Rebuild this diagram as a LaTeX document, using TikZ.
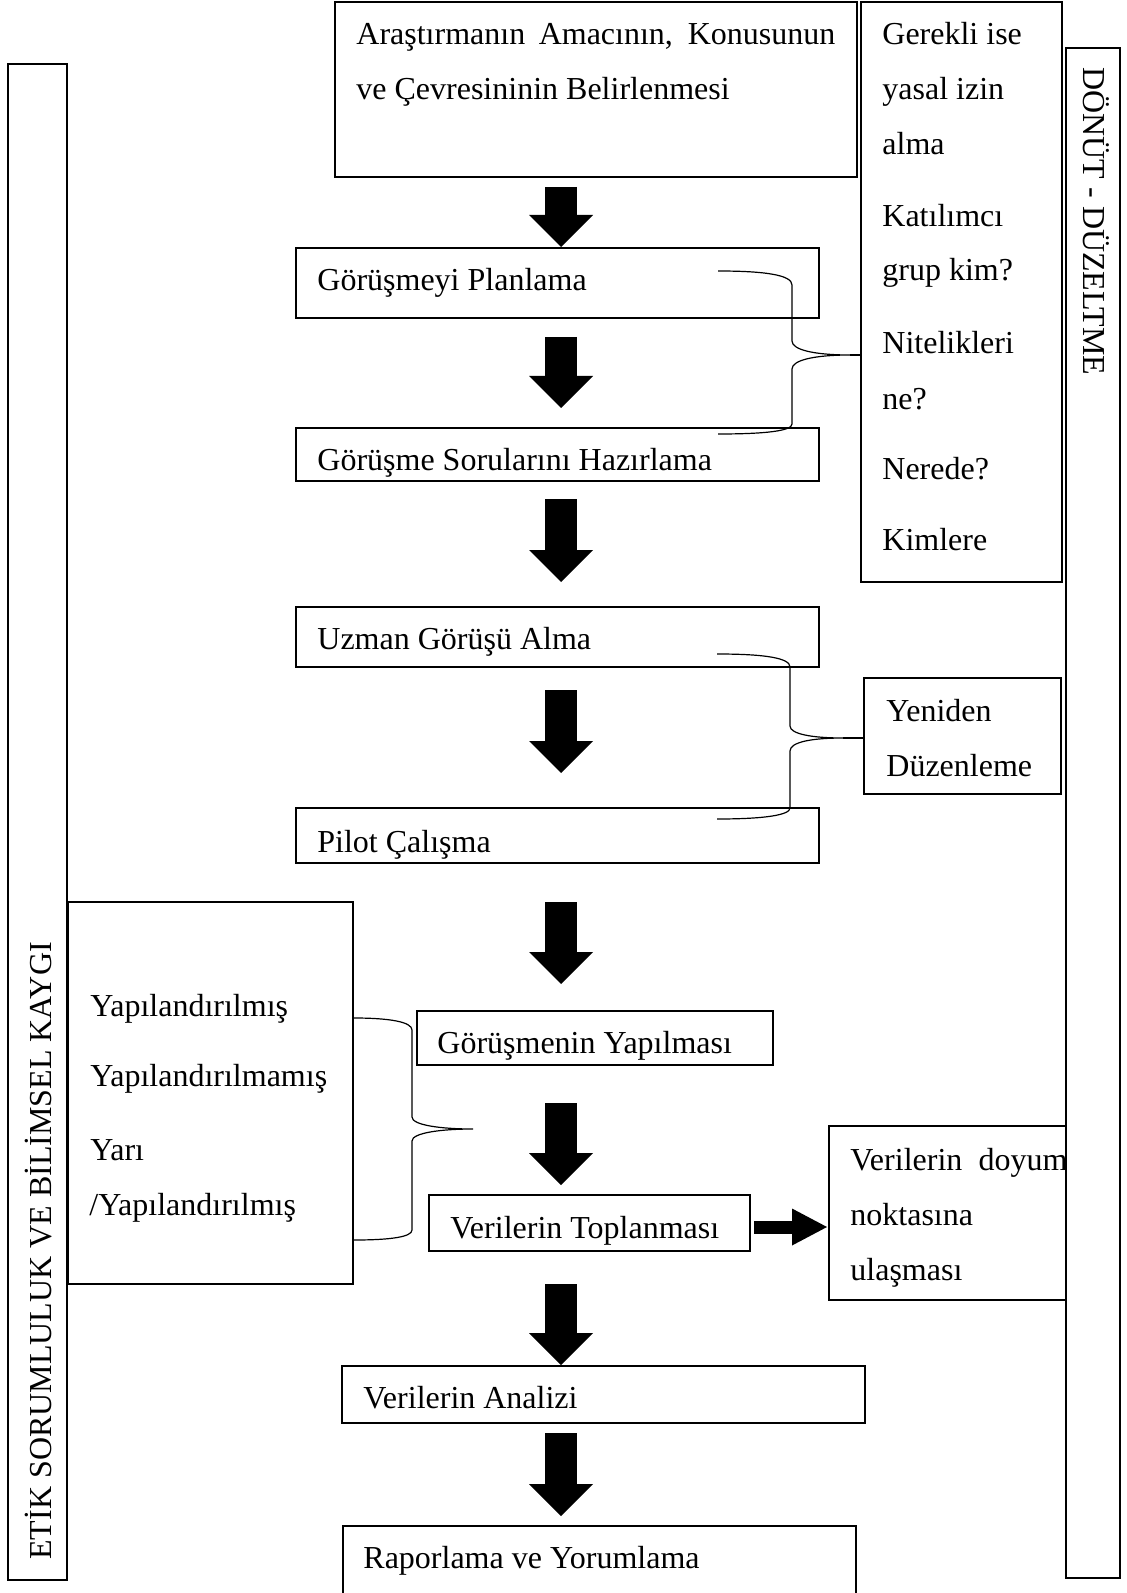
\documentclass[tikz,border=0pt]{standalone}
\usepackage{fontspec}
\setmainfont{Liberation Serif}
\usetikzlibrary{arrows.meta,calc,fit}
\begin{document}
\begin{tikzpicture}[x=0.5pt,y=-0.5pt,
  box/.style={draw, line width=1pt, inner sep=0pt, rectangle},
  rlbl/.style={font=\fontsize{16pt}{19pt}\selectfont, inner sep=0pt, anchor=base west},
  lbl/.style={rlbl, yshift=-1.5pt},
  bigarrow/.style={line width=16pt, -{Triangle[length=16pt,width=32pt,line width=0pt]}},
  sidearrow/.style={line width=6.5pt, -{Triangle[length=17.5pt,width=18.5pt,line width=0pt]}},
  brace/.style={line width=0.6pt},
  bracetip/.style={line width=1pt}]
\useasboundingbox (0,0) rectangle (1126,1593);
\clip (0,0) rectangle (1126,1593);

% side frames
\node[box, fit={(8,64) (67,1580)}] (etikbox) {};
\node[rlbl, rotate=90] (etik) at (51,1560) {ETİK SORUMLULUK VE BİLİMSEL KAYGI};

% main flow boxes
\node[box, fit={(335,2) (857,177)}] (top) {};
\node[box, fit={(296,248) (819,318)}] (plan) {};
\node[box, fit={(296,428) (819,481)}] (haz) {};
\node[box, fit={(296,607) (819,667)}] (uzman) {};
\node[box, fit={(296,808) (819,863)}] (pilot) {};
\node[box, fit={(417,1011) (773,1065)}] (yap) {};
\node[box, fit={(429,1195) (750,1251)}] (topl) {};
\node[box, fit={(342,1366) (865,1423)}] (anal) {};
\node[box, fit={(343,1526) (856,1598)}] (rapor) {};

% side boxes
\node[box, fit={(861,2) (1062,582)}] (cond) {};
\node[box, fit={(864,678) (1061,794)}] (yen) {};
\node[box, fit={(68,902) (353,1284)}] (tur) {};
\node[box, fit={(829,1126) (1080,1300)}] (doyum) {};

% texts of the flow
\node[lbl] (t1) at (356,42) {\makebox[239.5pt][s]{Araştırmanın Amacının, Konusunun}};
\node[lbl] (t2) at (356,97) {ve Çevresininin Belirlenmesi};
\node[lbl] (t3) at (317,288) {Görüşmeyi Planlama};
\node[lbl] (t4) at (317,467) {Görüşme Sorularını Hazırlama};
\node[lbl] (t5) at (317,646) {Uzman Görüşü Alma};
\node[lbl] (t6) at (317,849) {Pilot Çalışma};
\node[lbl] (t7) at (437,1050) {Görüşmenin Yapılması};
\node[lbl] (t8) at (450,1235) {Verilerin Toplanması};
\node[lbl] (t9) at (363,1405) {Verilerin Analizi};
\node[lbl] (t10) at (363,1565) {Raporlama ve Yorumlama};

% texts of the side boxes
\foreach \yy/\ww [count=\i] in {42/Gerekli ise, 97/yasal izin, 152/alma,
    224/Katılımcı, 278/grup kim?, 351/Nitelikleri, 406/ne?, 477/Nerede?, 547/Kimlere}
  \node[lbl] (c\i) at (882,\yy) {\ww};
\node[lbl] (y1) at (886,718) {Yeniden};
\node[lbl] (y2) at (886,773) {Düzenleme};
\node[lbl] (k1) at (90,1013) {Yapılandırılmış};
\node[lbl] (k2) at (90,1083) {Yapılandırılmamış};
\node[lbl] (k3) at (90,1157) {Yarı};
\node[lbl] (k4) at (89,1212) {/Yapılandırılmış};
\node[lbl] (d1) at (850,1167) {\makebox[108.5pt][s]{Verilerin doyum}};
\node[lbl] (d2) at (850,1222) {noktasına};
\node[lbl] (d3) at (850,1277) {ulaşması};

% feedback frame on the right, drawn over the saturation box
\node[box, fill=white, fit={(1066,48) (1120,1578)}] (donutbox) {};
\node[rlbl, rotate=-90] (donut) at (1083,67) {DÖNÜT - DÜZELTME};

% block arrows of the flow
\coordinate (ax) at (561,0);
\draw[bigarrow] ($(top.south -| ax)+(0,9)$) -- (ax |- plan.north);
\draw[bigarrow] ($(plan.south -| ax)+(0,18)$) -- ($(ax |- haz.north)+(0,-19)$);
\draw[bigarrow] ($(haz.south -| ax)+(0,17)$) -- ($(ax |- uzman.north)+(0,-24)$);
\draw[bigarrow] ($(uzman.south -| ax)+(0,22)$) -- ($(ax |- pilot.north)+(0,-34)$);
\draw[bigarrow] ($(pilot.south -| ax)+(0,38)$) -- ($(ax |- yap.north)+(0,-26)$);
\draw[bigarrow] ($(yap.south -| ax)+(0,37)$) -- ($(ax |- topl.north)+(0,-9)$);
\draw[bigarrow] ($(topl.south -| ax)+(0,32)$) -- (ax |- anal.north);
\draw[bigarrow] ($(anal.south -| ax)+(0,9)$) -- ($(ax |- rapor.north)+(0,-9)$);
\draw[sidearrow] ($(topl.east)+(3,4)$) -- ($(topl.east -| doyum.west)+(-1,4)$);

% braces
\coordinate (tip1) at (850,355);
\coordinate (tip2) at (843,738);
\coordinate (tip3) at (473,1129);
\draw[brace] (718,271) .. controls (765,271) and (792,275) .. (792,285) -- (792,341)
  .. controls (792,350) and (815,355) .. (tip1)
  .. controls (815,355) and (792,360) .. (792,369) -- (792,424)
  .. controls (792,431) and (765,434) .. (718,434);
\draw[bracetip] (tip1) -- (tip1 -| cond.west);
\draw[brace] (717,654) .. controls (765,654) and (790,658) .. (790,667) -- (790,726)
  .. controls (790,734) and (812,738) .. (tip2)
  .. controls (812,738) and (790,742) .. (790,751) -- (790,808)
  .. controls (790,815) and (765,819) .. (717,819);
\draw[bracetip] (tip2) -- (tip2 -| yen.west);
\draw[brace] (tur.east |- 0,1018) .. controls (390,1018) and (412,1022) .. (412,1030) -- (412,1117)
  .. controls (412,1125) and (440,1129) .. (tip3)
  .. controls (440,1129) and (412,1133) .. (412,1141) -- (412,1230)
  .. controls (412,1237) and (390,1240) .. (tur.east |- 0,1240);
\end{tikzpicture}
\end{document}
